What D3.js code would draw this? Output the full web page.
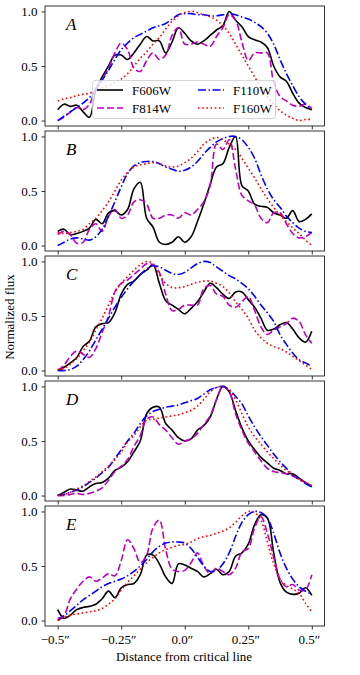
<!DOCTYPE html>
<html>
<head>
<meta charset="utf-8">
<script src="https://cdn.jsdelivr.net/npm/d3@7/dist/d3.min.js"></script>
<style>
body { margin: 0; background: #fff; }
svg { display: block; font-family: 'Liberation Serif', 'Times New Roman', serif; }
</style>
</head>
<body>
<script>
// panel letters and filters (legend order)
var panels = ['A', 'B', 'C', 'D', 'E'];
var filters = ['F606W', 'F814W', 'F110W', 'F160W'];

var yTicks = [0, 0.5, 1];
var xTicks = [-0.5, -0.25, 0, 0.25, 0.5];
var xTickLabels = ['\u22120.5\u2033', '\u22120.25\u2033', '0.0\u2033', '0.25\u2033', '0.5\u2033'];

// sample positions along the cut, every 0.025 arcsec
var xGrid = d3.range(41).map(function(i) { return -0.5 + i * 0.025; });

// panel A
var f606A = [0.10,0.15,0.13,0.14,0.08,0.03,0.28,0.40,0.50,0.60,0.60,0.56,0.62,0.70,0.77,0.73,0.73,0.62,0.72,0.85,0.80,0.73,0.70,0.73,0.78,0.83,0.87,1.00,0.92,0.86,0.77,0.74,0.72,0.67,0.50,0.40,0.36,0.25,0.16,0.12,0.10];
var f814A = [0.00,0.03,0.08,0.12,0.10,0.15,0.30,0.38,0.48,0.62,0.71,0.65,0.48,0.45,0.55,0.62,0.56,0.60,0.78,0.85,0.70,0.70,0.72,0.70,0.68,0.77,0.85,0.97,0.92,0.72,0.55,0.62,0.62,0.62,0.35,0.22,0.18,0.14,0.13,0.15,0.11];
var f110A = [0.00,0.04,0.08,0.12,0.16,0.21,0.28,0.37,0.46,0.56,0.65,0.71,0.76,0.79,0.82,0.85,0.87,0.89,0.93,0.97,0.98,0.98,0.97,0.97,0.96,0.96,0.97,0.98,0.97,0.95,0.93,0.90,0.86,0.80,0.70,0.56,0.43,0.32,0.22,0.15,0.10];
var f160A = [0.18,0.20,0.21,0.23,0.24,0.25,0.27,0.30,0.32,0.35,0.38,0.43,0.50,0.57,0.63,0.70,0.76,0.84,0.91,0.96,0.99,1.00,0.99,0.97,0.95,0.92,0.87,0.80,0.70,0.60,0.50,0.40,0.30,0.22,0.15,0.09,0.05,0.02,0.00,0.01,0.01];

// panel B
var f606B = [0.13,0.15,0.10,0.11,0.13,0.16,0.24,0.20,0.30,0.32,0.28,0.33,0.52,0.58,0.25,0.17,0.03,0.01,0.03,0.08,0.03,0.08,0.22,0.38,0.56,0.72,0.75,0.90,1.00,0.55,0.50,0.38,0.36,0.35,0.30,0.28,0.25,0.32,0.22,0.24,0.29];
var f814B = [0.10,0.13,0.10,0.02,0.03,0.15,0.20,0.13,0.27,0.33,0.25,0.28,0.40,0.42,0.38,0.25,0.25,0.28,0.28,0.25,0.30,0.28,0.33,0.40,0.55,0.93,0.88,0.97,0.70,0.46,0.41,0.37,0.25,0.21,0.30,0.30,0.20,0.11,0.07,0.08,0.12];
var f110B = [0.00,0.03,0.06,0.07,0.06,0.05,0.08,0.15,0.27,0.40,0.54,0.66,0.73,0.76,0.77,0.77,0.75,0.72,0.70,0.68,0.69,0.72,0.77,0.84,0.90,0.95,0.98,1.00,1.00,0.97,0.90,0.80,0.65,0.52,0.42,0.35,0.27,0.21,0.16,0.13,0.12];
var f160B = [0.12,0.11,0.12,0.13,0.15,0.20,0.25,0.32,0.40,0.50,0.60,0.67,0.72,0.74,0.75,0.76,0.75,0.73,0.72,0.73,0.76,0.80,0.86,0.93,0.97,0.99,0.97,0.93,0.88,0.80,0.71,0.62,0.52,0.43,0.35,0.28,0.22,0.16,0.11,0.05,0.00];

// panel C
var f606C = [0.00,0.03,0.07,0.12,0.22,0.27,0.40,0.43,0.44,0.53,0.70,0.79,0.82,0.88,0.92,0.97,0.80,0.64,0.60,0.56,0.52,0.57,0.63,0.72,0.80,0.76,0.70,0.66,0.72,0.72,0.65,0.58,0.48,0.37,0.38,0.42,0.44,0.38,0.30,0.26,0.36];
var f814C = [0.00,0.05,0.13,0.18,0.15,0.12,0.20,0.35,0.50,0.72,0.80,0.83,0.88,0.93,0.98,0.97,0.90,0.70,0.55,0.56,0.60,0.60,0.60,0.75,0.78,0.70,0.68,0.60,0.58,0.63,0.68,0.55,0.40,0.33,0.37,0.40,0.43,0.48,0.45,0.33,0.25];
var f110C = [0.00,0.00,0.01,0.04,0.10,0.18,0.28,0.38,0.48,0.58,0.67,0.75,0.82,0.88,0.93,0.96,0.95,0.92,0.89,0.88,0.90,0.94,0.98,1.00,0.99,0.95,0.91,0.87,0.84,0.80,0.75,0.68,0.60,0.53,0.45,0.33,0.24,0.16,0.10,0.07,0.04];
var f160C = [0.01,0.02,0.06,0.11,0.18,0.26,0.37,0.48,0.60,0.72,0.80,0.86,0.92,0.97,1.00,0.98,0.88,0.80,0.76,0.76,0.77,0.79,0.81,0.82,0.82,0.80,0.77,0.71,0.63,0.56,0.48,0.37,0.30,0.25,0.22,0.20,0.17,0.13,0.09,0.05,0.01];

// panel D
var f606D = [0.00,0.03,0.06,0.05,0.04,0.08,0.11,0.12,0.16,0.23,0.26,0.31,0.40,0.50,0.75,0.81,0.81,0.66,0.60,0.53,0.50,0.52,0.60,0.64,0.72,0.88,1.00,0.95,0.78,0.62,0.50,0.42,0.35,0.30,0.25,0.23,0.20,0.20,0.16,0.12,0.08];
var f814D = [0.00,0.00,0.01,0.02,0.01,0.02,0.04,0.07,0.14,0.22,0.27,0.33,0.45,0.55,0.70,0.72,0.65,0.60,0.53,0.47,0.50,0.52,0.57,0.65,0.73,0.88,1.00,0.95,0.75,0.60,0.48,0.40,0.32,0.25,0.22,0.21,0.20,0.18,0.15,0.12,0.09];
var f110D = [0.00,0.01,0.03,0.05,0.08,0.12,0.16,0.21,0.26,0.34,0.42,0.50,0.57,0.66,0.73,0.77,0.79,0.81,0.82,0.83,0.85,0.87,0.89,0.93,0.97,0.99,1.00,0.97,0.91,0.84,0.73,0.63,0.54,0.46,0.38,0.31,0.25,0.19,0.15,0.11,0.08];
var f160D = [0.00,0.01,0.03,0.06,0.09,0.13,0.17,0.22,0.27,0.33,0.40,0.49,0.55,0.63,0.69,0.70,0.71,0.72,0.73,0.74,0.76,0.78,0.82,0.88,0.95,0.99,1.00,0.97,0.88,0.75,0.63,0.54,0.47,0.40,0.34,0.28,0.23,0.19,0.15,0.12,0.09];

// panel E
var f606E = [0.10,0.02,0.05,0.10,0.12,0.13,0.15,0.20,0.27,0.21,0.30,0.33,0.34,0.42,0.60,0.60,0.52,0.40,0.34,0.52,0.51,0.48,0.45,0.40,0.43,0.47,0.42,0.45,0.59,0.62,0.70,0.88,0.97,0.94,0.62,0.35,0.26,0.24,0.25,0.30,0.23];
var f814E = [0.02,0.05,0.20,0.29,0.36,0.40,0.36,0.39,0.43,0.41,0.55,0.74,0.66,0.53,0.60,0.85,0.92,0.65,0.47,0.45,0.46,0.53,0.62,0.50,0.43,0.48,0.45,0.42,0.48,0.63,0.66,0.85,0.95,0.80,0.58,0.38,0.31,0.33,0.28,0.28,0.42];
var f110E = [0.00,0.04,0.09,0.14,0.19,0.23,0.27,0.31,0.34,0.36,0.38,0.41,0.45,0.50,0.56,0.63,0.68,0.71,0.72,0.72,0.71,0.66,0.58,0.50,0.45,0.46,0.52,0.62,0.77,0.90,0.97,1.00,0.99,0.94,0.80,0.62,0.48,0.38,0.31,0.27,0.24];
var f160E = [0.00,0.03,0.05,0.06,0.07,0.08,0.09,0.11,0.15,0.20,0.28,0.35,0.41,0.47,0.53,0.58,0.62,0.65,0.67,0.69,0.70,0.72,0.75,0.77,0.78,0.80,0.82,0.85,0.90,0.96,1.00,0.99,0.92,0.72,0.52,0.38,0.32,0.29,0.25,0.16,0.08];

var flux = {
	A: [f606A, f814A, f110A, f160A],
	B: [f606B, f814B, f110B, f160B],
	C: [f606C, f814C, f110C, f160C],
	D: [f606D, f814D, f110D, f160D],
	E: [f606E, f814E, f110E, f160E]
};

// line styles per filter
var colors = ['#000000', '#bf00bf', '#0000ff', '#ff0000'];
var dashes = [null, '7,3', '8,2.5,1.5,2.5', '1.6,2.6'];

var width = 360, height = 675;
var left = 45, right = 324.5;
var top0 = 6, panelH = 120, step = 125;
var font = "'Liberation Serif', 'Times New Roman', serif";

var svg = d3.select('body').append('svg')
	.attr('width', width)
	.attr('height', height);

var xScale = d3.scaleLinear().domain([-0.55, 0.55]).range([left, right]);

panels.forEach(function(p, i) {
	var top = top0 + i * step;
	var yScale = d3.scaleLinear().domain([-0.05, 1.05]).range([top + panelH, top]);
	var g = svg.append('g').attr('class', 'panel');

	// clip lines to axes box
	g.append('clipPath').attr('id', 'clip' + p)
		.append('rect')
		.attr('x', left).attr('y', top)
		.attr('width', right - left).attr('height', panelH);

	// y axis
	var ya = g.append('g')
		.attr('transform', 'translate(' + left + ',0)')
		.call(d3.axisLeft(yScale).tickValues(yTicks).tickFormat(d3.format('.1f')).tickSize(3.5).tickPadding(4));
	ya.select('.domain').remove();
	ya.attr('font-family', font).attr('font-size', 13);
	ya.selectAll('line').attr('stroke-width', 0.8);
	ya.selectAll('text').attr('fill', '#000').attr('dy', '0.34em');

	// x axis, labels only on the bottom panel
	var xa = g.append('g')
		.attr('transform', 'translate(0,' + (top + panelH) + ')')
		.call(d3.axisBottom(xScale).tickValues(xTicks).tickSize(3.5).tickPadding(5)
			.tickFormat(function(d, j) { return i === panels.length - 1 ? xTickLabels[j] : ''; }));
	xa.select('.domain').remove();
	xa.attr('font-family', font).attr('font-size', 13);
	xa.selectAll('line').attr('stroke-width', 0.8);
	xa.selectAll('text').attr('fill', '#000').attr('dx', -3);

	// curves
	var line = d3.line()
		.x(function(d, k) { return xScale(xGrid[k]); })
		.y(function(d) { return yScale(d); })
		.curve(d3.curveCatmullRom.alpha(0.5));

	g.append('g')
		.attr('clip-path', 'url(#clip' + p + ')')
		.selectAll('path')
		.data(flux[p])
		.enter().append('path')
		.attr('d', line)
		.attr('fill', 'none')
		.attr('stroke', function(d, k) { return colors[k]; })
		.attr('stroke-width', 1.6)
		.attr('stroke-dasharray', function(d, k) { return dashes[k]; });

	// frame
	g.append('rect')
		.attr('x', left).attr('y', top)
		.attr('width', right - left).attr('height', panelH)
		.attr('fill', 'none')
		.attr('stroke', '#000')
		.attr('stroke-width', 0.8);

	// panel letter
	g.append('text')
		.attr('x', 66)
		.attr('y', top + 24)
		.attr('font-family', font)
		.attr('font-style', 'italic')
		.attr('font-size', 17)
		.text(p);
});

// legend in top panel
var leg = svg.append('g').attr('class', 'legend');
leg.append('rect')
	.attr('x', 92.5).attr('y', 80.5)
	.attr('width', 183).attr('height', 38)
	.attr('rx', 2.5)
	.attr('fill', '#fff').attr('fill-opacity', 0.8)
	.attr('stroke', '#cccccc').attr('stroke-width', 0.8);

var items = leg.selectAll('.item')
	.data(filters)
	.enter().append('g')
	.attr('class', 'item')
	.attr('transform', function(d, k) {
		var col = Math.floor(k / 2), row = k % 2;
		return 'translate(' + (col ? 198 : 97) + ',' + (90 + row * 18) + ')';
	});

items.append('line')
	.attr('x1', 0).attr('x2', 26)
	.attr('stroke', function(d, k) { return colors[k]; })
	.attr('stroke-width', 1.6)
	.attr('stroke-dasharray', function(d, k) { return dashes[k]; });

items.append('text')
	.attr('x', 35)
	.attr('dy', '0.35em')
	.attr('font-family', font)
	.attr('font-size', 13)
	.text(function(d) { return d; });

// axis titles
svg.append('text')
	.attr('transform', 'translate(14,317) rotate(-90)')
	.attr('text-anchor', 'middle')
	.attr('font-family', font)
	.attr('font-size', 13)
	.text('Normalized flux');

svg.append('text')
	.attr('x', 184)
	.attr('y', 661)
	.attr('text-anchor', 'middle')
	.attr('font-family', font)
	.attr('font-size', 13)
	.text('Distance from critical line');
</script>
</body>
</html>
